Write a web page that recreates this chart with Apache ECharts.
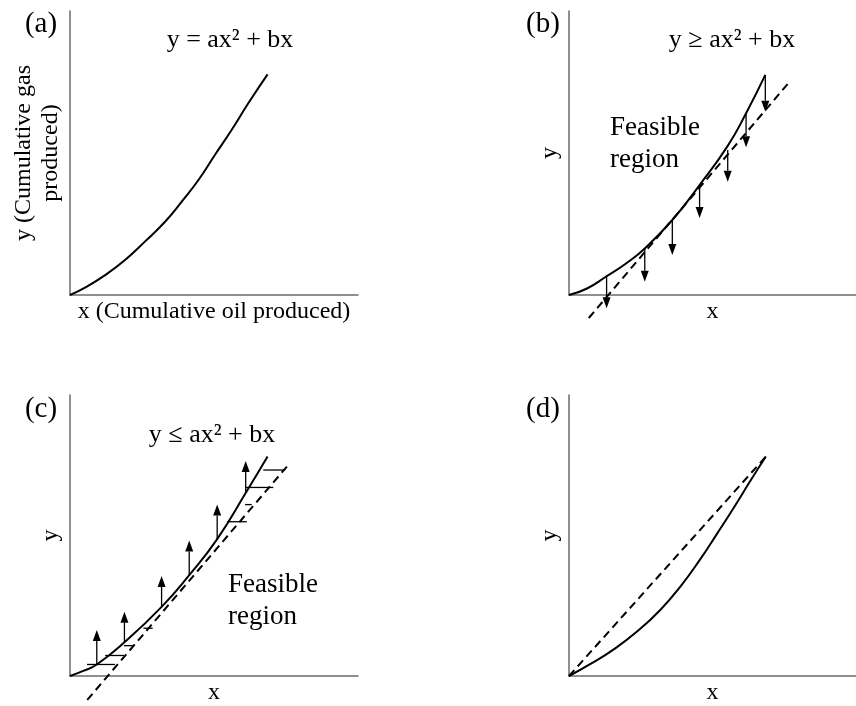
<!DOCTYPE html>
<html>
<head>
<meta charset="utf-8">
<script src="https://cdn.jsdelivr.net/npm/echarts@6/dist/echarts.min.js"></script>
<style>html,body{margin:0;padding:0;background:#fff}#main{width:856px;height:706px}</style>
</head>
<body>
<div id="main"></div>
<script>
// ---- data (x and y in arbitrary units 0..10) ----
const panelTitles = ['(a)', '(b)', '(c)', '(d)'];
const equations = ['y = ax\u00B2 + bx', 'y \u2265 ax\u00B2 + bx', 'y \u2264 ax\u00B2 + bx'];
const xNames = ['x (Cumulative oil produced)', 'x', 'x', 'x'];
const yNames = ['y (Cumulative gas\nproduced)', 'y', 'y', 'y'];
const feasibleText = 'Feasible\nregion';

const curveA = [[0,0],[0.52,0.26],[1.22,0.70],[1.91,1.23],[2.60,1.88],[3.30,2.58],[3.88,3.29],[4.46,4.05],[5.03,4.93],[5.61,5.81],[6.19,6.75],[6.86,7.77]];
const curveB = [[0,0],[0.61,0.22],[1.31,0.66],[2.0,1.12],[2.64,1.64],[3.60,2.64],[4.55,3.87],[5.53,5.25],[6.17,6.40],[6.84,7.75]];
const curveC = [[0,0],[0.46,0.18],[0.93,0.41],[1.89,1.20],[3.18,2.46],[4.14,3.59],[5.11,4.87],[6.10,6.51],[6.86,7.81]];
const curveD = [[0,0],[0.75,0.43],[1.56,0.95],[2.37,1.58],[3.18,2.35],[3.88,3.18],[4.57,4.15],[5.15,5.05],[5.73,5.97],[6.31,6.93],[6.86,7.81]];

const dashB = [[0.69,-0.81],[7.71,7.54]];
const dashC = [[0.60,-0.85],[7.58,7.51]];
const dashD = [[0,0],[6.86,7.81]];

// arrows in (b): x, start y (on curve), tip y
const arrowBx    = [1.31, 2.64, 3.60, 4.55, 5.53, 6.17, 6.84];
const arrowBFrom = [0.70, 1.64, 2.64, 3.87, 5.11, 6.40, 7.75];
const arrowBTo   = [-0.47, 0.47, 1.41, 2.71, 3.99, 5.20, 6.45];
// arrows in (c)
const arrowCx    = [0.93, 1.89, 3.18, 4.14, 5.11, 6.10];
const arrowCFrom = [0.41, 1.20, 2.46, 3.59, 4.87, 6.51];
const arrowCTo   = [1.64, 2.29, 3.56, 4.82, 6.10, 7.65];
// hatch marks in (c): y, x start, x end
const hatchY  = [0.41, 0.73, 1.08, 1.70, 5.49, 6.10, 6.71, 7.33];
const hatchX0 = [0.59, 1.22, 1.875, 2.55, 5.46, 6.08, 6.11, 6.71];
const hatchX1 = [1.56, 1.875, 2.20, 2.87, 6.14, 6.31, 7.06, 7.47];

// ---- chart ----
const FONT = '"Liberation Serif", "Times New Roman", serif';
const AXIS_COLOR = '#6b6b6b';
const grids = [
  {left: 70, top: 11, width: 288, height: 284},
  {left: 569, top: 11, width: 288, height: 284},
  {left: 70, top: 395, width: 288, height: 285},
  {left: 569, top: 395, width: 288, height: 285}
];

const xAxes = grids.map((g, i) => ({
  type: 'value', gridIndex: i, min: 0, max: 10,
  axisLine: {show: true, onZero: false, lineStyle: {color: AXIS_COLOR, width: 1.5}},
  axisTick: {show: false}, axisLabel: {show: false}, splitLine: {show: false},
  name: xNames[i], nameLocation: 'middle', nameGap: 5,
  nameTextStyle: {fontFamily: FONT, fontSize: 24, color: '#000'}
}));
const yAxes = grids.map((g, i) => ({
  type: 'value', gridIndex: i, min: 0, max: 10,
  axisLine: {show: true, onZero: false, lineStyle: {color: AXIS_COLOR, width: 1.5}},
  axisTick: {show: false}, axisLabel: {show: false}, splitLine: {show: false},
  name: yNames[i], nameLocation: 'middle', nameGap: 6,
  nameTextStyle: {fontFamily: FONT, fontSize: 24, color: '#000', lineHeight: 27}
}));

function curveSeries(data, i) {
  return {type: 'line', xAxisIndex: i, yAxisIndex: i, data: data, smooth: 0.5,
    showSymbol: false, symbol: 'none', clip: false, silent: true,
    lineStyle: {color: '#000', width: 2}};
}
function dashSeries(data, i) {
  return {type: 'line', xAxisIndex: i, yAxisIndex: i, data: data,
    showSymbol: false, symbol: 'none', clip: false, silent: true,
    lineStyle: {color: '#000', width: 2, type: [8, 5]}};
}
function arrowSeries(xs, froms, tos, i) {
  return {
    type: 'custom', xAxisIndex: i, yAxisIndex: i, silent: true, clip: false,
    data: xs.map((x, k) => [x, froms[k], tos[k]]),
    renderItem: function (params, api) {
      const p0 = api.coord([api.value(0), api.value(1)]);
      const p1 = api.coord([api.value(0), api.value(2)]);
      const dir = p1[1] > p0[1] ? 1 : -1;
      const headLen = 11, headHalf = 4;
      const base = p1[1] - dir * headLen;
      return {
        type: 'group',
        children: [
          {type: 'line', shape: {x1: p0[0], y1: p0[1], x2: p0[0], y2: base},
            style: {stroke: '#000', lineWidth: 1.3}},
          {type: 'polygon', shape: {points: [[p1[0], p1[1]], [p1[0] - headHalf, base], [p1[0] + headHalf, base]]},
            style: {fill: '#000'}}
        ]
      };
    }
  };
}
function hatchSeries(ys, x0s, x1s, i) {
  return {
    type: 'custom', xAxisIndex: i, yAxisIndex: i, silent: true, clip: false,
    data: ys.map((y, k) => [x0s[k], x1s[k], y]),
    renderItem: function (params, api) {
      const a = api.coord([api.value(0), api.value(2)]);
      const b = api.coord([api.value(1), api.value(2)]);
      return {type: 'line', shape: {x1: a[0], y1: a[1], x2: b[0], y2: b[1]},
        style: {stroke: '#000', lineWidth: 1.3}};
    }
  };
}

function txt(text, x, y, size, align, extra) {
  return {type: 'text', x: x, y: y, silent: true,
    style: Object.assign({text: text, font: size + 'px ' + FONT, fill: '#000',
      align: align || 'center', verticalAlign: 'middle'}, extra || {})};
}

const option = {
  backgroundColor: '#fff',
  animation: false,
  grid: grids,
  xAxis: xAxes,
  yAxis: yAxes,
  series: [
    curveSeries(curveA, 0),
    curveSeries(curveB, 1), dashSeries(dashB, 1), arrowSeries(arrowBx, arrowBFrom, arrowBTo, 1),
    curveSeries(curveC, 2), dashSeries(dashC, 2), arrowSeries(arrowCx, arrowCFrom, arrowCTo, 2),
    hatchSeries(hatchY, hatchX0, hatchX1, 2),
    curveSeries(curveD, 3), dashSeries(dashD, 3)
  ],
  graphic: [
    txt(panelTitles[0], 41, 24, 29),
    txt(panelTitles[1], 543, 24, 29),
    txt(panelTitles[2], 41, 409, 29),
    txt(panelTitles[3], 543, 409, 29),
    txt(equations[0], 230, 40, 26),
    txt(equations[1], 732, 40, 26),
    txt(equations[2], 212, 435, 26),
    txt(feasibleText, 610, 144, 27, 'left', {lineHeight: 32}),
    txt(feasibleText, 228, 601, 27, 'left', {lineHeight: 32})
  ]
};

const chart = echarts.init(document.getElementById('main'), null, {renderer: 'canvas'});
chart.setOption(option);
</script>
</body>
</html>
